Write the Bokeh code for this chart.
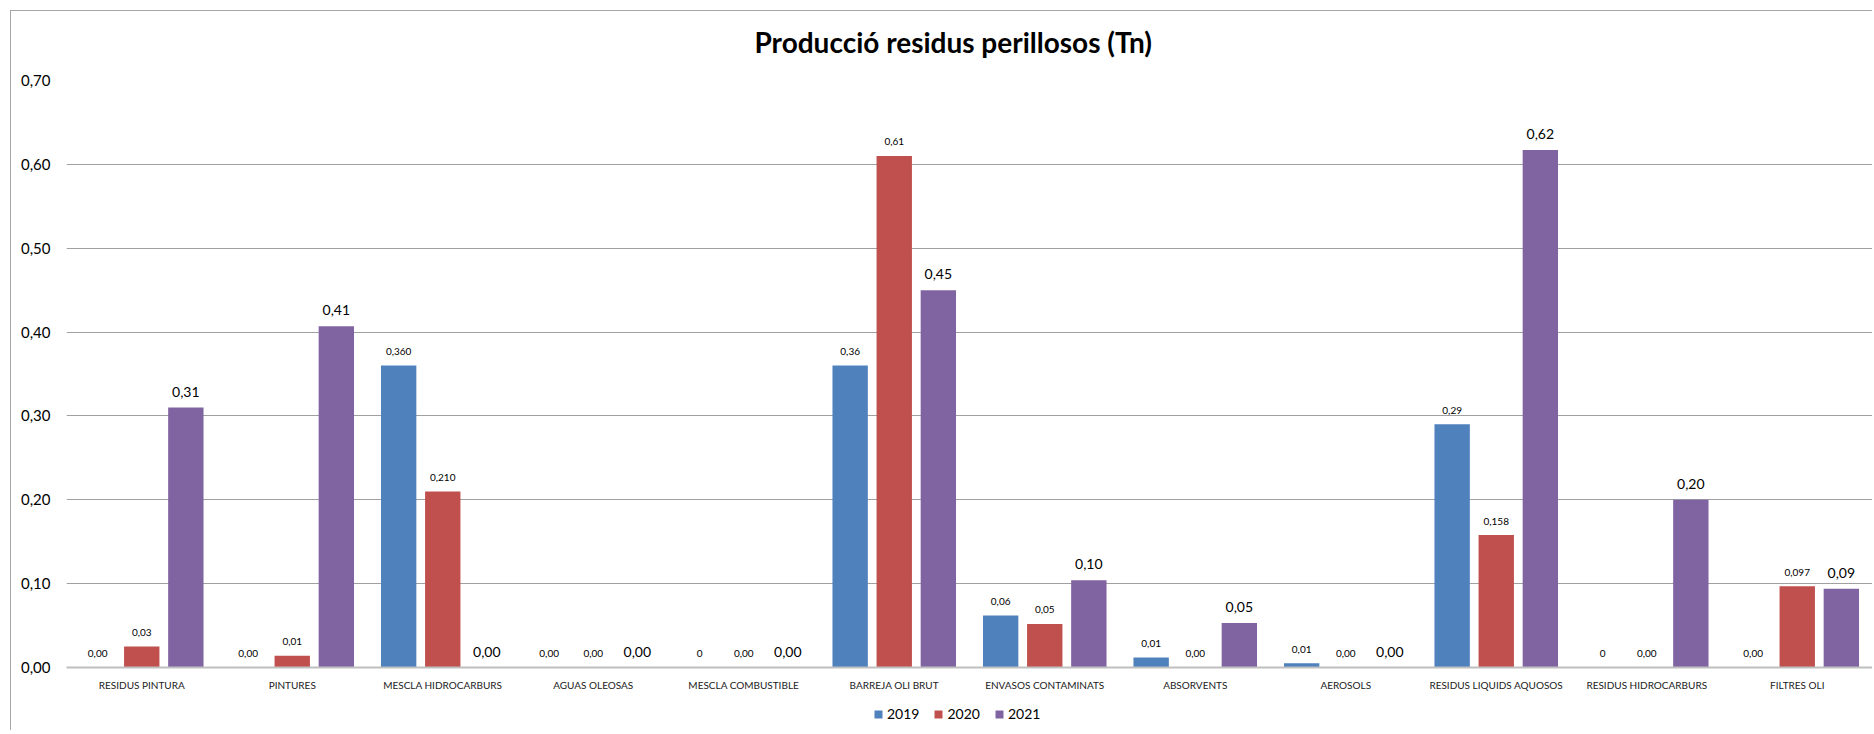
from bokeh.plotting import figure
from bokeh.layouts import column
from bokeh.models import (FactorRange, Range1d, FixedTicker, CustomJSTickFormatter,
                          ColumnDataSource, LabelSet, Legend, LegendItem)
from bokeh.transform import dodge
from bokeh.core.properties import value
from bokeh.embed import file_html
from bokeh.resources import INLINE

# ---------------- data ----------------
categories = ["RESIDUS PINTURA", "PINTURES", "MESCLA HIDROCARBURS", "AGUAS OLEOSAS",
              "MESCLA COMBUSTIBLE", "BARREJA OLI BRUT", "ENVASOS CONTAMINATS",
              "ABSORVENTS", "AEROSOLS", "RESIDUS LIQUIDS AQUOSOS",
              "RESIDUS HIDROCARBURS", "FILTRES OLI"]
years = ["2019", "2020", "2021"]

v2019 = [0.0, 0.0, 0.36, 0.0, 0.0, 0.36, 0.062, 0.012, 0.005, 0.29, 0.0, 0.0]
v2020 = [0.025, 0.014, 0.21, 0.0, 0.0, 0.61, 0.052, 0.0, 0.0, 0.158, 0.0, 0.097]
v2021 = [0.31, 0.407, 0.0, 0.0, 0.0, 0.45, 0.104, 0.053, 0.0, 0.617, 0.20, 0.094]

l2019 = ["0,00", "0,00", "0,360", "0,00", "0", "0,36", "0,06", "0,01", "0,01", "0,29", "0", "0,00"]
l2020 = ["0,03", "0,01", "0,210", "0,00", "0,00", "0,61", "0,05", "0,00", "0,00", "0,158", "0,00", "0,097"]
l2021 = ["0,31", "0,41", "0,00", "0,00", "0,00", "0,45", "0,10", "0,05", "0,00", "0,62", "0,20", "0,09"]

y_ticks = [0.0, 0.1, 0.2, 0.3, 0.4, 0.5, 0.6, 0.7]
title_text = "Producció residus perillosos (Tn)"

# ---------------- styling ----------------
colors = ["#4F81BD", "#C0504D", "#8064A2"]
offsets = [-0.293, 0.0, 0.293]
bar_w = 0.235
label_sizes = ["10px", "10px", "14px"]
label_offsets = [14, 14, 16]
FONT = "Lato"
BORDER = "#a6a6a6"
W = 1872

src = ColumnDataSource(dict(cat=categories, v2019=v2019, v2020=v2020, v2021=v2021,
                            l2019=l2019, l2020=l2020, l2021=l2021))

p = figure(x_range=FactorRange(factors=categories), y_range=Range1d(0, 0.7),
           width=W, height=700, output_backend="svg", toolbar_location=None,
           min_border_left=66, min_border_right=0, min_border_top=79, min_border_bottom=33)
p.outline_line_color = None
p.background_fill_color = "white"
p.border_fill_alpha = 0
p.styles = {
    "background": (f"linear-gradient({BORDER},{BORDER}) 10px 10px / 1px 100% no-repeat, "
                   f"linear-gradient({BORDER},{BORDER}) 10px 10px / 100% 1px no-repeat, #ffffff"),
}

# title
p.title.text = title_text
p.title.align = "left"
p.title.offset = 688
p.title.standoff = 44
p.title.text_font = FONT
p.title.text_font_style = "bold"
p.title.text_font_size = "28px"
p.title.text_color = "#000000"

# grid
p.xgrid.grid_line_color = None
p.ygrid.grid_line_color = "#a0a0a0"
p.ygrid.grid_line_width = 1
p.ygrid.ticker = FixedTicker(ticks=y_ticks)

# y axis
p.yaxis.ticker = FixedTicker(ticks=y_ticks)
p.yaxis.formatter = CustomJSTickFormatter(code="return tick.toFixed(2).replace('.', ',');")
p.yaxis.axis_line_color = None
p.yaxis.major_tick_line_color = None
p.yaxis.minor_tick_line_color = None
p.yaxis.major_tick_out = 0
p.yaxis.major_tick_in = 0
p.yaxis.major_label_standoff = 16
p.yaxis.major_label_text_font = FONT
p.yaxis.major_label_text_font_size = "15px"
p.yaxis.major_label_text_color = "#000000"

# x axis
p.xaxis.axis_line_color = "#bfbfbf"
p.xaxis.axis_line_width = 2
p.xaxis.major_tick_line_color = None
p.xaxis.minor_tick_line_color = None
p.xaxis.major_tick_out = 0
p.xaxis.major_tick_in = 0
p.xaxis.major_label_standoff = 11
p.xaxis.major_label_text_font = FONT
p.xaxis.major_label_text_font_size = "10px"
p.xaxis.major_label_text_color = "#1a1a1a"

for yr, col, off, fs, yo in zip(years, colors, offsets, label_sizes, label_offsets):
    p.vbar(x=dodge("cat", off, range=p.x_range), top="v" + yr, width=bar_w,
           source=src, fill_color=col, line_color=None)
    lbl = LabelSet(x=dodge("cat", off, range=p.x_range), y="v" + yr, text="l" + yr,
                   source=src, text_align="center", text_baseline="middle",
                   y_offset=yo, text_font=value(FONT), text_font_size=value(fs),
                   text_color="#000000")
    p.add_layout(lbl)

# legend strip (separate small figure so the legend is not clipped by the frame;
# its frame is aligned with the main frame by the column layout)
lg = figure(width=W, height=30, output_backend="svg", toolbar_location=None,
            x_range=Range1d(0, 1), y_range=Range1d(0, 1),
            x_axis_location=None, y_axis_location=None, min_border=0)
lg.grid.visible = False
lg.outline_line_color = None
lg.background_fill_alpha = 0
lg.border_fill_alpha = 0
lg.styles = {"background": f"linear-gradient({BORDER},{BORDER}) 10px 0px / 1px 100% no-repeat, #ffffff"}
items = []
for yr, col in zip(years, colors):
    # swatch-only renderer, placed outside the strip's visible range
    r = lg.vbar(x=[5], top=[0.5], width=0.1, fill_color=col, line_color=None)
    items.append(LegendItem(label=yr, renderers=[r]))
legend = Legend(items=items, orientation="horizontal", location=(807, 8),
                glyph_width=10, glyph_height=10, label_standoff=4, spacing=14,
                label_height=16, padding=0, margin=0, border_line_color=None,
                background_fill_alpha=0,
                label_text_font=FONT, label_text_font_size="14px", label_text_color="#000000")
lg.add_layout(legend)

layout = column(p, lg, spacing=0)
open("out.html", "w").write(file_html(layout, INLINE))
